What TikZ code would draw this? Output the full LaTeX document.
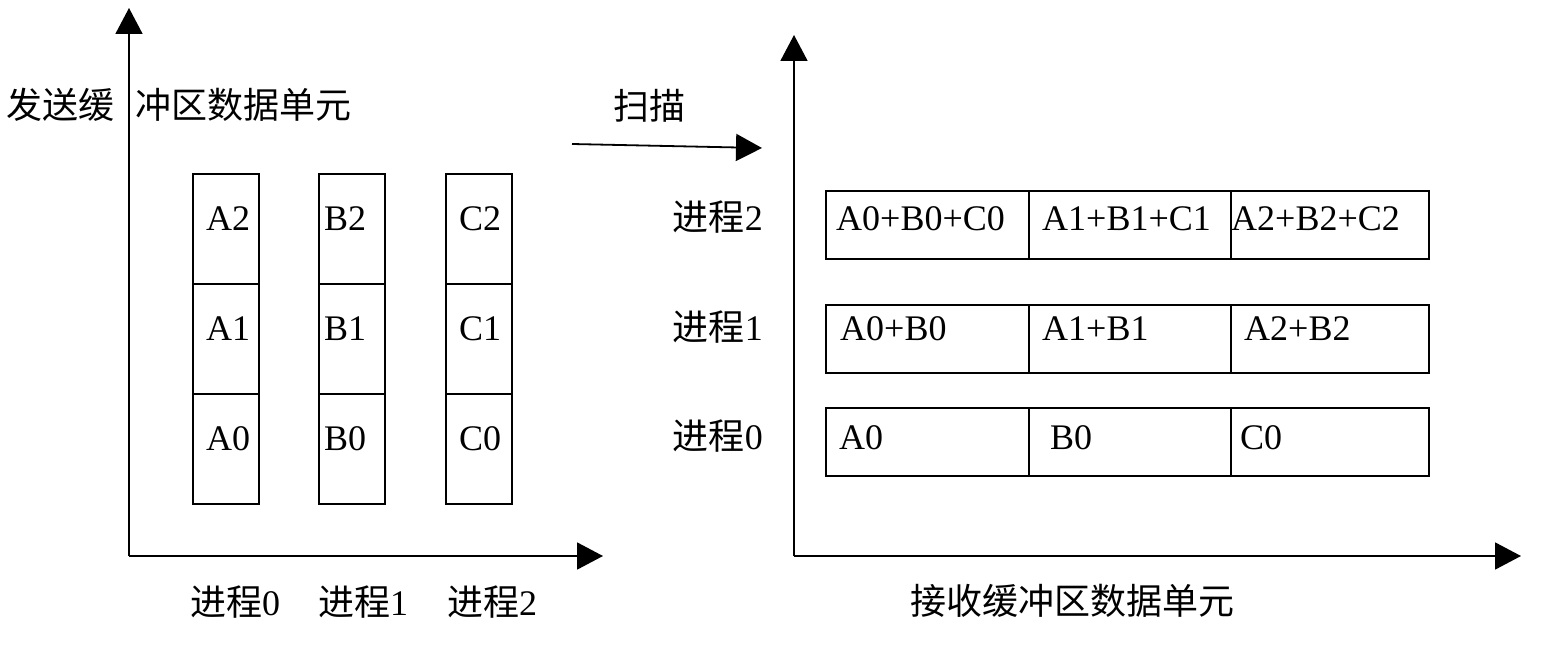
\documentclass[tikz,border=0pt]{standalone}
\usepackage{fontspec}
\setmainfont{Liberation Serif}
\newfontfamily\cjk{Noto Sans CJK SC}
\usetikzlibrary{arrows.meta}
\tikzset{
  axis/.style={line width=1.8pt, -{Triangle[length=26pt,width=27pt]}},
  vcell/.style={draw, line width=1.6pt, minimum width=66pt, minimum height=110pt, inner sep=0pt, anchor=north west},
  hcell/.style={draw, line width=1.6pt, minimum height=68pt, inner sep=0pt, anchor=north west},
  lbl/.style={anchor=base west, inner sep=0pt, font=\fontsize{36}{40}\selectfont},
}
\begin{document}
\begin{tikzpicture}[x=1pt,y=-1pt]
\useasboundingbox (0,0) rectangle (1544,660);
% left axes
\coordinate (lo) at (129,556);
\coordinate (ltop) at (129,8);
\coordinate (lright) at (603,556);
\draw[axis] (lo) -- (ltop);
\draw[axis] (lo) -- (lright);
% left cells
\foreach \c/\x in {A/192,B/318,C/445}{
  \node[vcell] (\c2) at (\x,173) {};
  \node[vcell] (\c1) at (\x,283) {};
  \node[vcell] (\c0) at (\x,393) {};
}
\foreach \c/\x in {A/206,B/324,C/459}{
  \node[lbl] at (\x,231) {\c2};
  \node[lbl] at (\x,340) {\c1};
  \node[lbl] at (\x,450) {\c0};
}
\node[lbl] at (190,615) {{\cjk 进程}0};
\node[lbl] at (318,615) {{\cjk 进程}1};
\node[lbl] at (447,615) {{\cjk 进程}2};
\node[lbl] at (6,119) {\cjk 发送缓};
\node[lbl] at (135,119) {\cjk 冲区数据单元};
% scan arrow
\coordinate (s0) at (572,144);
\coordinate (s1) at (762,148);
\draw[axis] (s0) -- (s1);
\node[lbl] at (613,120) {\cjk 扫描};
% right axes
\coordinate (ro) at (794,556);
\coordinate (rtop) at (794,35);
\coordinate (rright) at (1521,556);
\draw[axis] (ro) -- (rtop);
\draw[axis] (ro) -- (rright);
% right rows
\foreach \r/\y in {2/190,1/304,0/407}{
  \node[hcell, minimum width=203pt] (r\r a) at (825,\y) {};
  \node[hcell, minimum width=202pt] (r\r b) at (1028,\y) {};
  \node[hcell, minimum width=198pt] (r\r c) at (1230,\y) {};
}
\node[lbl] at (836,231) {A0+B0+C0};
\node[lbl] at (1042,231) {A1+B1+C1};
\node[lbl] at (1231,231) {A2+B2+C2};
\node[lbl] at (840,340) {A0+B0};
\node[lbl] at (1042,340) {A1+B1};
\node[lbl] at (1244,340) {A2+B2};
\node[lbl] at (839,449) {A0};
\node[lbl] at (1050,449) {B0};
\node[lbl] at (1240,449) {C0};
\node[lbl, anchor=base east] at (763,231) {{\cjk 进程}2};
\node[lbl, anchor=base east] at (763,340) {{\cjk 进程}1};
\node[lbl, anchor=base east] at (763,449) {{\cjk 进程}0};
\node[lbl] at (910,614) {\cjk 接收缓冲区数据单元};
\end{tikzpicture}
\end{document}
